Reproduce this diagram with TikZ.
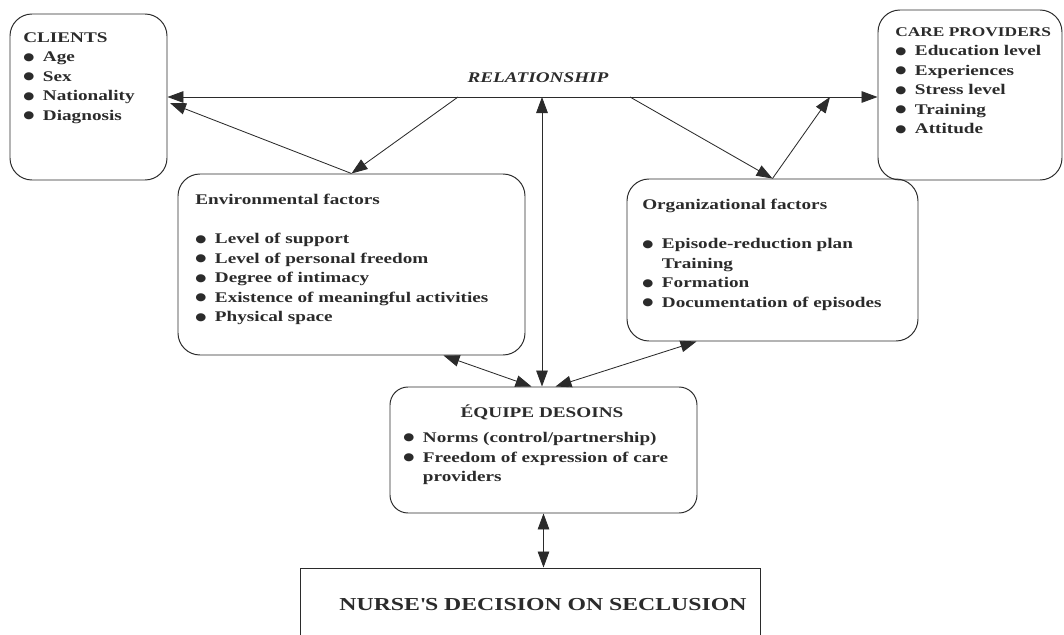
\documentclass[tikz,border=0pt]{standalone}
\usepackage{fontspec}
\setmainfont{Liberation Serif}[FakeStretch=1.3]
\newfontfamily\dotfont{DejaVu Sans}[FakeStretch=1.2]
\usetikzlibrary{arrows.meta}
\definecolor{edgecol}{HTML}{2B2B2B}
\newcommand{\bul}{\makebox[14pt][l]{\raisebox{1.1pt}{\dotfont\fontsize{7.5}{7.5}\selectfont ●}}}
\newcommand{\bulgap}{\hspace*{14pt}}

\begin{document}
\begin{tikzpicture}[
  box/.style={rectangle, rounded corners=0.55cm, draw=edgecol, line width=0.7pt, inner sep=0pt},
  sqbox/.style={rectangle, draw=edgecol, line width=0.7pt, inner sep=0pt},
  txt/.style={anchor=north west, inner sep=0pt, align=left, text=edgecol,
              font=\fontsize{10.5}{13.9}\selectfont\bfseries},
  lnk/.style={draw=edgecol, line width=0.6pt, -{Triangle[length=4mm, width=2.9mm]}},
  dbl/.style={draw=edgecol, line width=0.6pt,
              {Triangle[length=4mm, width=2.9mm]}-{Triangle[length=4mm, width=2.9mm]}},
]
\clip (0,0) rectangle (26.6,-15.875);
% boxes
\node[box, minimum width=3.925cm, minimum height=4.15cm] (clients) at (2.2125,-2.425) {};
\node[box, minimum width=4.6cm, minimum height=4.25cm] (carers) at (24.25,-2.375) {};
\node[box, minimum width=8.675cm, minimum height=4.525cm] (envf) at (8.7875,-6.6125) {};
\node[box, minimum width=7.275cm, minimum height=4.05cm] (orgf) at (19.3125,-6.5) {};
\node[box, rounded corners=0.45cm, minimum width=7.675cm, minimum height=3.15cm] (equipe) at (13.5875,-11.25) {};
\node[sqbox, minimum width=11.5cm, minimum height=2.3cm] (nurse) at (13.25,-15.35) {};
% box texts
\node[txt] (clientsTxt) at (0.575,-0.8) {CLIENTS\\\bul Age\\\bul Sex\\\bul Nationality\\\bul Diagnosis};
\node[txt] (carersTxt) at (22.375,-0.675) {{\fontsize{9.5}{13.9}\selectfont CARE PROVIDERS}\\\bul Education level\\\bul Experiences\\\bul Stress level\\\bul Training\\\bul Attitude};
\node[txt] (envTxt) at (4.875,-4.85) {Environmental factors\\[13.9pt]\bul Level of support\\\bul Level of personal freedom\\\bul Degree of intimacy\\\bul Existence of meaningful activities\\\bul Physical space};
\node[txt] (orgTxt) at (16.05,-4.975) {Organizational factors\\[13.9pt]\bul Episode-reduction plan\\\bulgap Training\\\bul Formation\\\bul Documentation of episodes};
\node[txt, anchor=north] (equipeHead) at (13.55,-10.125) {ÉQUIPE DESOINS};
\node[txt] (equipeTxt) at (10.075,-10.8) {\bul Norms (control/partnership)\\\bul Freedom of expression of care\\\bulgap providers};
\node[txt, anchor=north, font=\fontsize{13}{15}\selectfont\bfseries] (nurseTxt) at (13.575,-14.95) {NURSE\textquotesingle S DECISION ON SECLUSION};
\node[inner sep=0pt, text=edgecol, font=\fontsize{10.5}{12}\selectfont\bfseries\itshape] (relLbl) at (13.45,-1.95) {RELATIONSHIP};
% relationship line and its branch points
\coordinate (relA) at (11.45,-2.425);
\coordinate (relB) at (13.55,-2.425);
\coordinate (relC) at (15.75,-2.425);
\coordinate (relD) at (20.75,-2.425);
\coordinate (cliIn) at (4.25,-2.575);
\draw[dbl] (clients.east) -- (clients.east -| carers.west);
\draw[lnk] (envf.north) -- (cliIn);
\draw[lnk] (relA) -- (envf.north);
\draw[dbl] (relB) -- (relB |- equipe.north);
\draw[lnk] (relC) -- (orgf.north);
\draw[lnk] (orgf.north) -- (relD);
% factors <-> team <-> decision
\draw[dbl] ([xshift=2.3cm]envf.south) -- ([xshift=-0.3cm]equipe.north);
\draw[dbl] ([xshift=-1.9cm]orgf.south) -- ([xshift=0.3cm]equipe.north);
\draw[dbl] (equipe.south) -- (equipe.south |- nurse.north);
\end{tikzpicture}
\end{document}
